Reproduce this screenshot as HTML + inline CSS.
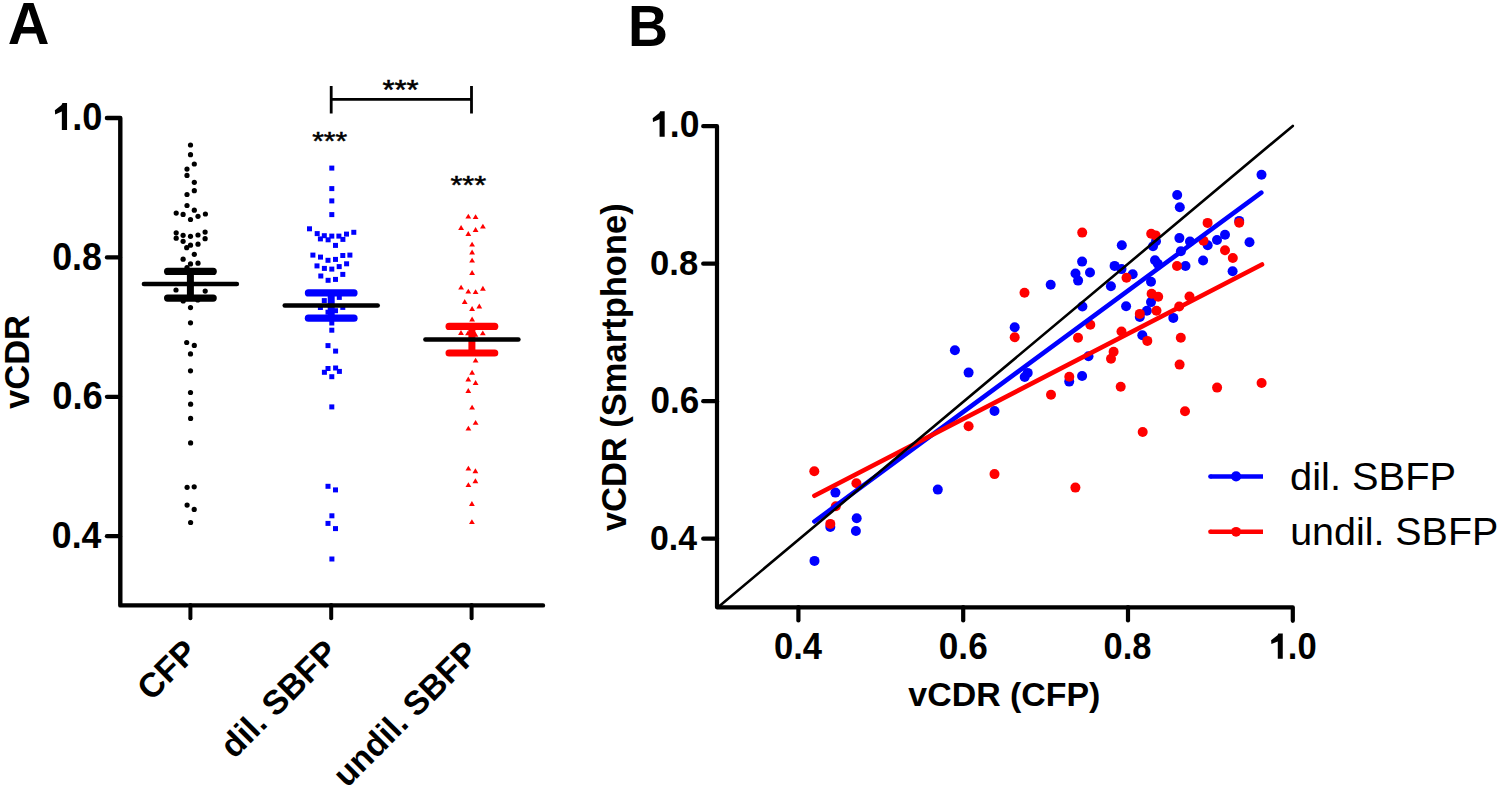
<!DOCTYPE html>
<html><head><meta charset="utf-8"><title>Figure</title>
<style>html,body{margin:0;padding:0;background:#fff;width:1500px;height:788px;overflow:hidden}svg{display:block}text{font-family:"Liberation Sans",sans-serif}</style>
</head><body>
<svg width="1500" height="788" viewBox="0 0 1500 788">
<rect width="1500" height="788" fill="#fff"/>
<text transform="translate(7.77,44.20) scale(0.9633,1)" font-family="Liberation Sans" font-weight="bold" font-size="59.93" fill="#000" >A</text>
<path d="M106.9 118 H120.3 V605.4 H543" fill="none" stroke="#000" stroke-width="4.4" stroke-linejoin="round" stroke-linecap="round"/>
<line x1="106.9" y1="257.40" x2="120" y2="257.40" stroke="#000" stroke-width="4.2" stroke-linecap="round"/>
<line x1="106.9" y1="396.80" x2="120" y2="396.80" stroke="#000" stroke-width="4.2" stroke-linecap="round"/>
<line x1="106.9" y1="536.20" x2="120" y2="536.20" stroke="#000" stroke-width="4.2" stroke-linecap="round"/>
<line x1="190.4" y1="605" x2="190.4" y2="618.3" stroke="#000" stroke-width="4" stroke-linecap="round"/>
<line x1="331.2" y1="605" x2="331.2" y2="618.3" stroke="#000" stroke-width="4" stroke-linecap="round"/>
<line x1="471.6" y1="605" x2="471.6" y2="618.3" stroke="#000" stroke-width="4" stroke-linecap="round"/>
<path d="M67.05 103.00 L67.05 130.10 L61.84 130.10 L61.84 111.62 L55.17 114.41 L54.85 110.37 L61.53 104.98 L62.46 103.00 Z" fill="#000"/>
<text transform="translate(72.30,130.01) scale(0.9346,1)" font-family="Liberation Sans" font-weight="bold" font-size="38.73" fill="#000" >.0</text>
<text transform="translate(52.17,270.01) scale(0.9252,1)" font-family="Liberation Sans" font-weight="bold" font-size="38.73" fill="#000" >0.8</text>
<text transform="translate(52.14,409.21) scale(0.9401,1)" font-family="Liberation Sans" font-weight="bold" font-size="38.73" fill="#000" >0.6</text>
<text transform="translate(51.87,548.03) scale(0.9546,1)" font-family="Liberation Sans" font-weight="bold" font-size="37.32" fill="#000" >0.4</text>
<text transform="translate(28.60,409.05) rotate(-90)" font-family="Liberation Sans" font-weight="bold" font-size="34.6" fill="#000">vCDR</text>
<text transform="translate(151.20,701.95) rotate(-45)" font-family="Liberation Sans" font-weight="bold" font-size="34" fill="#000">CFP</text>
<text transform="translate(234.25,759.75) rotate(-45)" font-family="Liberation Sans" font-weight="bold" font-size="34" fill="#000">dil. SBFP</text>
<text transform="translate(346.90,788.40) rotate(-45)" font-family="Liberation Sans" font-weight="bold" font-size="33.6" fill="#000">undil. SBFP</text>
<circle cx="190.5" cy="145.0" r="2.6" fill="#000"/>
<circle cx="190.5" cy="154.7" r="2.6" fill="#000"/>
<circle cx="194.3" cy="164.0" r="2.6" fill="#000"/>
<circle cx="187.0" cy="169.1" r="2.6" fill="#000"/>
<circle cx="187.0" cy="175.4" r="2.6" fill="#000"/>
<circle cx="194.3" cy="182.3" r="2.6" fill="#000"/>
<circle cx="194.3" cy="190.7" r="2.6" fill="#000"/>
<circle cx="187.0" cy="194.5" r="2.6" fill="#000"/>
<circle cx="187.0" cy="205.5" r="2.6" fill="#000"/>
<circle cx="194.3" cy="210.2" r="2.6" fill="#000"/>
<circle cx="176.2" cy="213.1" r="2.6" fill="#000"/>
<circle cx="183.1" cy="214.4" r="2.6" fill="#000"/>
<circle cx="205.4" cy="214.0" r="2.6" fill="#000"/>
<circle cx="198.0" cy="216.3" r="2.6" fill="#000"/>
<circle cx="190.5" cy="219.5" r="2.6" fill="#000"/>
<circle cx="176.2" cy="232.8" r="2.6" fill="#000"/>
<circle cx="176.2" cy="238.2" r="2.6" fill="#000"/>
<circle cx="183.1" cy="235.3" r="2.6" fill="#000"/>
<circle cx="190.5" cy="236.3" r="2.6" fill="#000"/>
<circle cx="198.0" cy="235.0" r="2.6" fill="#000"/>
<circle cx="205.1" cy="232.1" r="2.6" fill="#000"/>
<circle cx="205.1" cy="238.7" r="2.6" fill="#000"/>
<circle cx="183.1" cy="241.3" r="2.6" fill="#000"/>
<circle cx="198.0" cy="244.2" r="2.6" fill="#000"/>
<circle cx="190.5" cy="245.2" r="2.6" fill="#000"/>
<circle cx="186.7" cy="247.7" r="2.6" fill="#000"/>
<circle cx="194.3" cy="254.3" r="2.6" fill="#000"/>
<circle cx="183.1" cy="259.2" r="2.6" fill="#000"/>
<circle cx="190.5" cy="263.9" r="2.6" fill="#000"/>
<circle cx="198.0" cy="263.2" r="2.6" fill="#000"/>
<circle cx="187" cy="267.6" r="2.6" fill="#000"/>
<circle cx="176.0" cy="290.0" r="2.6" fill="#000"/>
<circle cx="205.2" cy="291.1" r="2.6" fill="#000"/>
<circle cx="183.2" cy="300.9" r="2.6" fill="#000"/>
<circle cx="197.8" cy="300.0" r="2.6" fill="#000"/>
<circle cx="190.5" cy="307.6" r="2.6" fill="#000"/>
<circle cx="190.5" cy="322.8" r="2.6" fill="#000"/>
<circle cx="186.7" cy="342.5" r="2.6" fill="#000"/>
<circle cx="194.3" cy="345.4" r="2.6" fill="#000"/>
<circle cx="190.5" cy="353.9" r="2.6" fill="#000"/>
<circle cx="190.5" cy="370.8" r="2.6" fill="#000"/>
<circle cx="190.5" cy="392.5" r="2.6" fill="#000"/>
<circle cx="190.6" cy="404.2" r="2.6" fill="#000"/>
<circle cx="190.6" cy="418.4" r="2.6" fill="#000"/>
<circle cx="190.6" cy="442.9" r="2.6" fill="#000"/>
<circle cx="187.1" cy="487.3" r="2.6" fill="#000"/>
<circle cx="194.2" cy="486.8" r="2.6" fill="#000"/>
<circle cx="187.1" cy="505.1" r="2.6" fill="#000"/>
<circle cx="194.2" cy="509.4" r="2.6" fill="#000"/>
<circle cx="190.6" cy="522.5" r="2.6" fill="#000"/>
<rect x="329.30" y="165.60" width="5" height="5" fill="#0000ff"/>
<rect x="329.30" y="186.10" width="5" height="5" fill="#0000ff"/>
<rect x="329.30" y="198.40" width="5" height="5" fill="#0000ff"/>
<rect x="329.30" y="212.10" width="5" height="5" fill="#0000ff"/>
<rect x="307.00" y="226.30" width="5" height="5" fill="#0000ff"/>
<rect x="314.70" y="231.10" width="5" height="5" fill="#0000ff"/>
<rect x="317.90" y="236.40" width="5" height="5" fill="#0000ff"/>
<rect x="321.80" y="233.20" width="5" height="5" fill="#0000ff"/>
<rect x="325.60" y="237.30" width="5" height="5" fill="#0000ff"/>
<rect x="329.30" y="233.60" width="5" height="5" fill="#0000ff"/>
<rect x="336.40" y="233.60" width="5" height="5" fill="#0000ff"/>
<rect x="340.40" y="236.90" width="5" height="5" fill="#0000ff"/>
<rect x="344.00" y="231.60" width="5" height="5" fill="#0000ff"/>
<rect x="351.30" y="229.80" width="5" height="5" fill="#0000ff"/>
<rect x="333.00" y="242.90" width="5" height="5" fill="#0000ff"/>
<rect x="310.40" y="252.60" width="5" height="5" fill="#0000ff"/>
<rect x="318.00" y="254.60" width="5" height="5" fill="#0000ff"/>
<rect x="325.50" y="257.80" width="5" height="5" fill="#0000ff"/>
<rect x="333.00" y="256.90" width="5" height="5" fill="#0000ff"/>
<rect x="340.30" y="253.00" width="5" height="5" fill="#0000ff"/>
<rect x="347.40" y="252.60" width="5" height="5" fill="#0000ff"/>
<rect x="314.50" y="263.40" width="5" height="5" fill="#0000ff"/>
<rect x="321.90" y="265.90" width="5" height="5" fill="#0000ff"/>
<rect x="329.30" y="266.60" width="5" height="5" fill="#0000ff"/>
<rect x="336.70" y="264.10" width="5" height="5" fill="#0000ff"/>
<rect x="344.10" y="261.30" width="5" height="5" fill="#0000ff"/>
<rect x="318.30" y="273.50" width="5" height="5" fill="#0000ff"/>
<rect x="325.60" y="277.80" width="5" height="5" fill="#0000ff"/>
<rect x="333.00" y="276.90" width="5" height="5" fill="#0000ff"/>
<rect x="340.30" y="271.90" width="5" height="5" fill="#0000ff"/>
<rect x="321.80" y="298.10" width="5" height="5" fill="#0000ff"/>
<rect x="336.80" y="294.90" width="5" height="5" fill="#0000ff"/>
<rect x="317.90" y="305.00" width="5" height="5" fill="#0000ff"/>
<rect x="340.30" y="304.90" width="5" height="5" fill="#0000ff"/>
<rect x="333.00" y="308.20" width="5" height="5" fill="#0000ff"/>
<rect x="325.50" y="309.70" width="5" height="5" fill="#0000ff"/>
<rect x="329.30" y="320.50" width="5" height="5" fill="#0000ff"/>
<rect x="329.30" y="327.70" width="5" height="5" fill="#0000ff"/>
<rect x="325.50" y="343.10" width="5" height="5" fill="#0000ff"/>
<rect x="333.10" y="348.60" width="5" height="5" fill="#0000ff"/>
<rect x="325.50" y="366.00" width="5" height="5" fill="#0000ff"/>
<rect x="333.10" y="365.50" width="5" height="5" fill="#0000ff"/>
<rect x="321.90" y="369.80" width="5" height="5" fill="#0000ff"/>
<rect x="336.90" y="368.90" width="5" height="5" fill="#0000ff"/>
<rect x="329.30" y="374.20" width="5" height="5" fill="#0000ff"/>
<rect x="329.30" y="404.40" width="5" height="5" fill="#0000ff"/>
<rect x="325.50" y="483.80" width="5" height="5" fill="#0000ff"/>
<rect x="333.00" y="487.40" width="5" height="5" fill="#0000ff"/>
<rect x="329.40" y="513.30" width="5" height="5" fill="#0000ff"/>
<rect x="325.50" y="520.90" width="5" height="5" fill="#0000ff"/>
<rect x="333.00" y="526.10" width="5" height="5" fill="#0000ff"/>
<rect x="329.40" y="556.50" width="5" height="5" fill="#0000ff"/>
<path d="M468.30 213.70 L471.20 218.60 L465.40 218.60 Z" fill="#ff0000"/>
<path d="M475.60 214.20 L478.50 219.10 L472.70 219.10 Z" fill="#ff0000"/>
<path d="M461.10 225.10 L464.00 230.00 L458.20 230.00 Z" fill="#ff0000"/>
<path d="M482.90 223.70 L485.80 228.60 L480.00 228.60 Z" fill="#ff0000"/>
<path d="M475.60 227.00 L478.50 231.90 L472.70 231.90 Z" fill="#ff0000"/>
<path d="M468.30 231.10 L471.20 236.00 L465.40 236.00 Z" fill="#ff0000"/>
<path d="M472.10 241.70 L475.00 246.60 L469.20 246.60 Z" fill="#ff0000"/>
<path d="M472.10 249.60 L475.00 254.50 L469.20 254.50 Z" fill="#ff0000"/>
<path d="M472.10 257.70 L475.00 262.60 L469.20 262.60 Z" fill="#ff0000"/>
<path d="M472.10 270.10 L475.00 275.00 L469.20 275.00 Z" fill="#ff0000"/>
<path d="M461.10 284.70 L464.00 289.60 L458.20 289.60 Z" fill="#ff0000"/>
<path d="M468.30 288.70 L471.20 293.60 L465.40 293.60 Z" fill="#ff0000"/>
<path d="M475.60 289.20 L478.50 294.10 L472.70 294.10 Z" fill="#ff0000"/>
<path d="M482.90 285.80 L485.80 290.70 L480.00 290.70 Z" fill="#ff0000"/>
<path d="M464.70 299.10 L467.60 304.00 L461.80 304.00 Z" fill="#ff0000"/>
<path d="M479.30 303.60 L482.20 308.50 L476.40 308.50 Z" fill="#ff0000"/>
<path d="M472.10 306.10 L475.00 311.00 L469.20 311.00 Z" fill="#ff0000"/>
<path d="M472.10 316.50 L475.00 321.40 L469.20 321.40 Z" fill="#ff0000"/>
<path d="M461.00 330.10 L463.90 335.00 L458.10 335.00 Z" fill="#ff0000"/>
<path d="M468.00 330.40 L470.90 335.30 L465.10 335.30 Z" fill="#ff0000"/>
<path d="M482.80 330.40 L485.70 335.30 L479.90 335.30 Z" fill="#ff0000"/>
<path d="M475.40 331.80 L478.30 336.70 L472.50 336.70 Z" fill="#ff0000"/>
<path d="M475.60 357.70 L478.50 362.60 L472.70 362.60 Z" fill="#ff0000"/>
<path d="M472.10 369.80 L475.00 374.70 L469.20 374.70 Z" fill="#ff0000"/>
<path d="M468.30 376.50 L471.20 381.40 L465.40 381.40 Z" fill="#ff0000"/>
<path d="M475.60 380.10 L478.50 385.00 L472.70 385.00 Z" fill="#ff0000"/>
<path d="M468.30 388.10 L471.20 393.00 L465.40 393.00 Z" fill="#ff0000"/>
<path d="M472.10 404.70 L475.00 409.60 L469.20 409.60 Z" fill="#ff0000"/>
<path d="M475.60 419.90 L478.50 424.80 L472.70 424.80 Z" fill="#ff0000"/>
<path d="M468.40 425.70 L471.30 430.60 L465.50 430.60 Z" fill="#ff0000"/>
<path d="M468.40 465.70 L471.30 470.60 L465.50 470.60 Z" fill="#ff0000"/>
<path d="M475.40 468.30 L478.30 473.20 L472.50 473.20 Z" fill="#ff0000"/>
<path d="M475.40 478.30 L478.30 483.20 L472.50 483.20 Z" fill="#ff0000"/>
<path d="M468.40 482.20 L471.30 487.10 L465.50 487.10 Z" fill="#ff0000"/>
<path d="M471.90 501.10 L474.80 506.00 L469.00 506.00 Z" fill="#ff0000"/>
<path d="M471.90 519.20 L474.80 524.10 L469.00 524.10 Z" fill="#ff0000"/>
<line x1="167.6" y1="271.4" x2="213.20000000000002" y2="271.4" stroke="#000" stroke-width="7.2" stroke-linecap="round"/>
<line x1="167.6" y1="298.1" x2="213.20000000000002" y2="298.1" stroke="#000" stroke-width="7.2" stroke-linecap="round"/>
<line x1="190.4" y1="271.4" x2="190.4" y2="298.1" stroke="#000" stroke-width="7" />
<line x1="143.9" y1="284.0" x2="236.9" y2="284.0" stroke="#000" stroke-width="4.5" stroke-linecap="round"/>
<line x1="308.4" y1="292.9" x2="354.0" y2="292.9" stroke="#0000ff" stroke-width="7.2" stroke-linecap="round"/>
<line x1="308.4" y1="318.2" x2="354.0" y2="318.2" stroke="#0000ff" stroke-width="7.2" stroke-linecap="round"/>
<line x1="331.2" y1="292.9" x2="331.2" y2="318.2" stroke="#0000ff" stroke-width="7" />
<line x1="284.7" y1="305.5" x2="377.7" y2="305.5" stroke="#000" stroke-width="4.5" stroke-linecap="round"/>
<line x1="449.09999999999997" y1="326.4" x2="494.7" y2="326.4" stroke="#ff0000" stroke-width="7.2" stroke-linecap="round"/>
<line x1="449.09999999999997" y1="353.0" x2="494.7" y2="353.0" stroke="#ff0000" stroke-width="7.2" stroke-linecap="round"/>
<line x1="471.9" y1="326.4" x2="471.9" y2="353.0" stroke="#ff0000" stroke-width="7" />
<line x1="425.4" y1="339.6" x2="518.4" y2="339.6" stroke="#000" stroke-width="4.5" stroke-linecap="round"/>
<path d="M331.2 86 V113.5 M331.2 99.3 H471.5 M471.5 86 V113.5" fill="none" stroke="#000" stroke-width="2.8"/>
<text transform="translate(382.38,98.82) scale(1.1062,1)" font-family="Liberation Sans" font-weight="normal" font-size="28.00" fill="#000" stroke="#000" stroke-width="0.5">***</text>
<text transform="translate(312.20,150.14) scale(1.1470,1)" font-family="Liberation Sans" font-weight="normal" font-size="26.00" fill="#000" stroke="#000" stroke-width="0.5">***</text>
<text transform="translate(450.39,193.84) scale(1.1649,1)" font-family="Liberation Sans" font-weight="normal" font-size="26.29" fill="#000" stroke="#000" stroke-width="0.5">***</text>
<text transform="translate(628.12,45.80) scale(0.9534,1)" font-family="Liberation Sans" font-weight="bold" font-size="58.12" fill="#000" >B</text>
<path d="M703.2 126.2 H717 V607.3 H1292.8 V620.8" fill="none" stroke="#000" stroke-width="4.2" stroke-linejoin="round" stroke-linecap="round"/>
<line x1="703.2" y1="263.70" x2="717" y2="263.70" stroke="#000" stroke-width="4.2" stroke-linecap="round"/>
<line x1="703.2" y1="401.20" x2="717" y2="401.20" stroke="#000" stroke-width="4.2" stroke-linecap="round"/>
<line x1="703.2" y1="538.70" x2="717" y2="538.70" stroke="#000" stroke-width="4.2" stroke-linecap="round"/>
<line x1="798.40" y1="607" x2="798.40" y2="620.4" stroke="#000" stroke-width="4.2" stroke-linecap="round"/>
<line x1="963.20" y1="607" x2="963.20" y2="620.4" stroke="#000" stroke-width="4.2" stroke-linecap="round"/>
<line x1="1128.00" y1="607" x2="1128.00" y2="620.4" stroke="#000" stroke-width="4.2" stroke-linecap="round"/>
<path d="M664.68 111.20 L664.68 136.80 L659.56 136.80 L659.56 119.34 L653.01 121.98 L652.70 118.16 L659.25 113.07 L660.17 111.20 Z" fill="#000"/>
<text transform="translate(669.83,136.73) scale(0.9703,1)" font-family="Liberation Sans" font-weight="bold" font-size="36.62" fill="#000" >.0</text>
<text transform="translate(650.02,275.05) scale(0.9793,1)" font-family="Liberation Sans" font-weight="bold" font-size="35.35" fill="#000" >0.8</text>
<text transform="translate(650.50,412.63) scale(0.9531,1)" font-family="Liberation Sans" font-weight="bold" font-size="36.76" fill="#000" >0.6</text>
<text transform="translate(650.05,550.14) scale(0.9425,1)" font-family="Liberation Sans" font-weight="bold" font-size="35.92" fill="#000" >0.4</text>
<text transform="translate(774.02,659.13) scale(0.9410,1)" font-family="Liberation Sans" font-weight="bold" font-size="36.76" fill="#000" >0.4</text>
<text transform="translate(938.79,659.13) scale(0.9573,1)" font-family="Liberation Sans" font-weight="bold" font-size="36.76" fill="#000" >0.6</text>
<text transform="translate(1103.62,658.64) scale(0.9560,1)" font-family="Liberation Sans" font-weight="bold" font-size="36.06" fill="#000" >0.8</text>
<path d="M1282.76 633.50 L1282.76 658.70 L1277.78 658.70 L1277.78 641.51 L1271.40 644.11 L1271.10 640.35 L1277.48 635.34 L1278.38 633.50 Z" fill="#000"/>
<text transform="translate(1287.77,658.64) scale(0.9593,1)" font-family="Liberation Sans" font-weight="bold" font-size="36.06" fill="#000" >.0</text>
<text transform="translate(908.36,706.36) scale(1.0112,1)" font-family="Liberation Sans" font-weight="bold" font-size="33.51" fill="#000" >vCDR (CFP)</text>
<text transform="translate(625.80,531.15) rotate(-90)" font-family="Liberation Sans" font-weight="bold" font-size="34.5" fill="#000">vCDR (Smartphone)</text>
<circle cx="814.5" cy="560.9" r="5.0" fill="#0000ff"/>
<circle cx="835.4" cy="492.6" r="5.0" fill="#0000ff"/>
<circle cx="856.7" cy="518.2" r="5.0" fill="#0000ff"/>
<circle cx="855.9" cy="531" r="5.0" fill="#0000ff"/>
<circle cx="830.3" cy="526.9" r="5.0" fill="#0000ff"/>
<circle cx="937.8" cy="489.6" r="5.0" fill="#0000ff"/>
<circle cx="954.9" cy="350.3" r="5.0" fill="#0000ff"/>
<circle cx="968.6" cy="372.6" r="5.0" fill="#0000ff"/>
<circle cx="994.5" cy="411" r="5.0" fill="#0000ff"/>
<circle cx="1014.7" cy="327.3" r="5.0" fill="#0000ff"/>
<circle cx="1024.7" cy="377" r="5.0" fill="#0000ff"/>
<circle cx="1027.7" cy="372.9" r="5.0" fill="#0000ff"/>
<circle cx="1088.5" cy="356.2" r="5.0" fill="#0000ff"/>
<circle cx="1069.2" cy="381.6" r="5.0" fill="#0000ff"/>
<circle cx="1082.1" cy="376" r="5.0" fill="#0000ff"/>
<circle cx="1050.7" cy="284.7" r="5.0" fill="#0000ff"/>
<circle cx="1082.1" cy="261.6" r="5.0" fill="#0000ff"/>
<circle cx="1075.5" cy="273.5" r="5.0" fill="#0000ff"/>
<circle cx="1078.1" cy="280.6" r="5.0" fill="#0000ff"/>
<circle cx="1090" cy="272.5" r="5.0" fill="#0000ff"/>
<circle cx="1114.6" cy="265.9" r="5.0" fill="#0000ff"/>
<circle cx="1110.9" cy="286.2" r="5.0" fill="#0000ff"/>
<circle cx="1082.4" cy="306.5" r="5.0" fill="#0000ff"/>
<circle cx="1121.8" cy="245.3" r="5.0" fill="#0000ff"/>
<circle cx="1156" cy="241.2" r="5.0" fill="#0000ff"/>
<circle cx="1153" cy="246.2" r="5.0" fill="#0000ff"/>
<circle cx="1179.4" cy="238.1" r="5.0" fill="#0000ff"/>
<circle cx="1190" cy="241.5" r="5.0" fill="#0000ff"/>
<circle cx="1180.9" cy="251.3" r="5.0" fill="#0000ff"/>
<circle cx="1155" cy="260.3" r="5.0" fill="#0000ff"/>
<circle cx="1121.5" cy="269.1" r="5.0" fill="#0000ff"/>
<circle cx="1132.7" cy="274.2" r="5.0" fill="#0000ff"/>
<circle cx="1151" cy="281.8" r="5.0" fill="#0000ff"/>
<circle cx="1185.5" cy="266" r="5.0" fill="#0000ff"/>
<circle cx="1151" cy="302.1" r="5.0" fill="#0000ff"/>
<circle cx="1126.1" cy="306.2" r="5.0" fill="#0000ff"/>
<circle cx="1146.9" cy="310.8" r="5.0" fill="#0000ff"/>
<circle cx="1139.8" cy="316.9" r="5.0" fill="#0000ff"/>
<circle cx="1173.3" cy="317.9" r="5.0" fill="#0000ff"/>
<circle cx="1142.3" cy="335.2" r="5.0" fill="#0000ff"/>
<circle cx="1177.2" cy="195" r="5.0" fill="#0000ff"/>
<circle cx="1179.8" cy="207.3" r="5.0" fill="#0000ff"/>
<circle cx="1261.5" cy="174.7" r="5.0" fill="#0000ff"/>
<circle cx="1239.2" cy="220.9" r="5.0" fill="#0000ff"/>
<circle cx="1225" cy="234.8" r="5.0" fill="#0000ff"/>
<circle cx="1217" cy="240" r="5.0" fill="#0000ff"/>
<circle cx="1207.7" cy="245.2" r="5.0" fill="#0000ff"/>
<circle cx="1249.5" cy="242.2" r="5.0" fill="#0000ff"/>
<circle cx="1203.1" cy="260.5" r="5.0" fill="#0000ff"/>
<circle cx="1232.6" cy="271.3" r="5.0" fill="#0000ff"/>
<circle cx="1157.8" cy="263.8" r="5.0" fill="#0000ff"/>
<circle cx="814.3" cy="471.3" r="5.0" fill="#ff0000"/>
<circle cx="835.8" cy="506.3" r="5.0" fill="#ff0000"/>
<circle cx="856.4" cy="483.2" r="5.0" fill="#ff0000"/>
<circle cx="830.3" cy="523.9" r="5.0" fill="#ff0000"/>
<circle cx="968.6" cy="426.2" r="5.0" fill="#ff0000"/>
<circle cx="994.5" cy="474.1" r="5.0" fill="#ff0000"/>
<circle cx="1014.7" cy="337.2" r="5.0" fill="#ff0000"/>
<circle cx="1024.5" cy="292.8" r="5.0" fill="#ff0000"/>
<circle cx="1075.4" cy="487.6" r="5.0" fill="#ff0000"/>
<circle cx="1051" cy="394.7" r="5.0" fill="#ff0000"/>
<circle cx="1069.3" cy="376.7" r="5.0" fill="#ff0000"/>
<circle cx="1078" cy="337.8" r="5.0" fill="#ff0000"/>
<circle cx="1090.3" cy="324.7" r="5.0" fill="#ff0000"/>
<circle cx="1113.6" cy="351.8" r="5.0" fill="#ff0000"/>
<circle cx="1111" cy="358.7" r="5.0" fill="#ff0000"/>
<circle cx="1120.7" cy="386.8" r="5.0" fill="#ff0000"/>
<circle cx="1142.7" cy="432" r="5.0" fill="#ff0000"/>
<circle cx="1147.3" cy="340.9" r="5.0" fill="#ff0000"/>
<circle cx="1121.5" cy="331.5" r="5.0" fill="#ff0000"/>
<circle cx="1082.2" cy="232.6" r="5.0" fill="#ff0000"/>
<circle cx="1151.2" cy="233.8" r="5.0" fill="#ff0000"/>
<circle cx="1155.6" cy="235.4" r="5.0" fill="#ff0000"/>
<circle cx="1126.5" cy="277.7" r="5.0" fill="#ff0000"/>
<circle cx="1139.8" cy="313.9" r="5.0" fill="#ff0000"/>
<circle cx="1156.5" cy="310.8" r="5.0" fill="#ff0000"/>
<circle cx="1151.6" cy="293.8" r="5.0" fill="#ff0000"/>
<circle cx="1158.2" cy="296.8" r="5.0" fill="#ff0000"/>
<circle cx="1179.2" cy="306.5" r="5.0" fill="#ff0000"/>
<circle cx="1189.5" cy="296.5" r="5.0" fill="#ff0000"/>
<circle cx="1177" cy="266" r="5.0" fill="#ff0000"/>
<circle cx="1180.8" cy="337.8" r="5.0" fill="#ff0000"/>
<circle cx="1179.6" cy="364.6" r="5.0" fill="#ff0000"/>
<circle cx="1217.1" cy="387.6" r="5.0" fill="#ff0000"/>
<circle cx="1261.6" cy="383" r="5.0" fill="#ff0000"/>
<circle cx="1185" cy="411.2" r="5.0" fill="#ff0000"/>
<circle cx="1207.6" cy="222.9" r="5.0" fill="#ff0000"/>
<circle cx="1239.2" cy="222.8" r="5.0" fill="#ff0000"/>
<circle cx="1203.5" cy="240.7" r="5.0" fill="#ff0000"/>
<circle cx="1225" cy="250.2" r="5.0" fill="#ff0000"/>
<circle cx="1232.8" cy="258" r="5.0" fill="#ff0000"/>
<line x1="814.4" y1="521.5" x2="1261.3" y2="192.6" stroke="#0000ff" stroke-width="4.6" stroke-linecap="round"/>
<line x1="814.4" y1="495.8" x2="1262" y2="264.5" stroke="#ff0000" stroke-width="4.6" stroke-linecap="round"/>
<line x1="717.7" y1="607.4" x2="1292.8" y2="125.9" stroke="#000" stroke-width="2.6" stroke-linecap="round"/>
<line x1="1210.4" y1="476.4" x2="1263" y2="476.4" stroke="#0000ff" stroke-width="4.5"/>
<circle cx="1210.4" cy="476.4" r="2.25" fill="#0000ff"/>
<circle cx="1236.1" cy="476.4" r="5.1" fill="#0000ff"/>
<line x1="1210.4" y1="531.8" x2="1263" y2="531.8" stroke="#ff0000" stroke-width="4.5"/>
<circle cx="1210.4" cy="531.8" r="2.25" fill="#ff0000"/>
<circle cx="1236.1" cy="531.8" r="4.9" fill="#ff0000"/>
<text transform="translate(1290.11,489.50) scale(1.0059,1)" font-family="Liberation Sans" font-weight="normal" font-size="39.59" fill="#000" >dil. SBFP</text>
<text transform="translate(1290.14,544.80) scale(0.9956,1)" font-family="Liberation Sans" font-weight="normal" font-size="39.59" fill="#000" >undil. SBFP</text>
</svg>
</body></html>
